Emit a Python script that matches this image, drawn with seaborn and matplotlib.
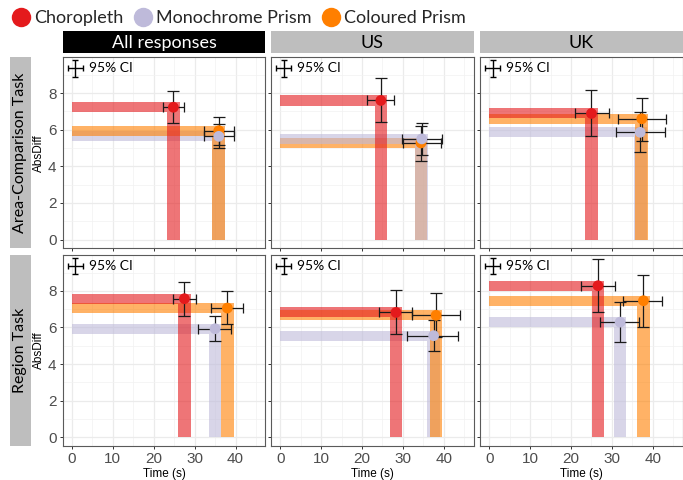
import numpy as np
import pandas as pd
import matplotlib
matplotlib.use("Agg")
import matplotlib.pyplot as plt
import seaborn as sns
from matplotlib.lines import Line2D

tasks = ["Area-Comparison Task", "Region Task"]
regions = ["All responses", "US", "UK"]
designs = ["Choropleth", "Monochrome Prism", "Coloured Prism"]
palette = {"Choropleth": "#E41A1C", "Monochrome Prism": "#BEBADA", "Coloured Prism": "#FF7F00"}

# panel order: Area-All, Area-US, Area-UK, Region-All, Region-US, Region-UK
chor_time = [24.8, 24.6, 25.0, 27.5, 28.3, 26.6]
chor_time_lo = [22.2, 21.2, 20.9, 24.6, 24.1, 22.4]
chor_time_hi = [27.4, 27.9, 29.3, 30.3, 32.3, 30.8]
chor_abs = [7.23, 7.60, 6.89, 7.57, 6.82, 8.28]
chor_abs_lo = [6.37, 6.41, 5.68, 6.64, 5.64, 6.82]
chor_abs_hi = [8.11, 8.82, 8.16, 8.51, 8.04, 9.73]

mono_time = [35.9, 34.6, 36.9, 35.0, 37.5, 32.0]
mono_time_lo = [32.2, 29.7, 31.1, 30.9, 31.1, 27.1]
mono_time_hi = [39.6, 39.5, 43.0, 38.9, 43.5, 36.7]
mono_abs = [5.64, 5.50, 5.86, 5.93, 5.55, 6.29]
mono_abs_lo = [4.99, 4.62, 4.77, 5.26, 4.69, 5.20]
mono_abs_hi = [6.29, 6.36, 6.95, 6.64, 6.41, 7.39]

col_time = [35.9, 34.4, 37.3, 38.0, 38.1, 37.7]
col_time_lo = [32.2, 29.9, 31.4, 34.1, 32.2, 32.6]
col_time_hi = [39.6, 39.2, 43.3, 41.9, 43.9, 42.2]
col_abs = [5.95, 5.28, 6.60, 7.06, 6.66, 7.46]
col_abs_lo = [5.17, 4.30, 5.41, 6.17, 5.46, 6.04]
col_abs_hi = [6.70, 6.20, 7.75, 7.99, 7.86, 8.89]

x_ticks = [0, 10, 20, 30, 40]
y_ticks = [0, 2, 4, 6, 8]

rows = []
series = {
    "Choropleth": (chor_time, chor_time_lo, chor_time_hi, chor_abs, chor_abs_lo, chor_abs_hi),
    "Monochrome Prism": (mono_time, mono_time_lo, mono_time_hi, mono_abs, mono_abs_lo, mono_abs_hi),
    "Coloured Prism": (col_time, col_time_lo, col_time_hi, col_abs, col_abs_lo, col_abs_hi),
}
for d, (t, tl, th, a, al, ah) in series.items():
    for i in range(6):
        rows.append(dict(task=tasks[i // 3], region=regions[i % 3], design=d,
                         time=t[i], time_lo=tl[i], time_hi=th[i],
                         absdiff=a[i], abs_lo=al[i], abs_hi=ah[i]))
df = pd.DataFrame(rows)

sns.set_theme(style="whitegrid")
plt.rcParams["font.family"] = ["Liberation Sans", "DejaVu Sans"]
label_font = ["Lato", "DejaVu Sans"]

W, H = 683, 480
fig = plt.figure(figsize=(W / 100, H / 100), dpi=100)

col_left = [62.7, 271.0, 480.0]
panel_w = 202.5
row_top = [57.3, 255.0]
panel_h = 191.0

BAR_H = 0.55   # thickness of horizontal band (AbsDiff units)
BAR_W = 3.1    # thickness of vertical band (time units)
point_order = ["Choropleth", "Coloured Prism", "Monochrome Prism"]

def rect(l, t, w, h):
    return [l / W, 1 - (t + h) / H, w / W, h / H]

for r, task in enumerate(tasks):
    for c, region in enumerate(regions):
        ax = fig.add_axes(rect(col_left[c], row_top[r], panel_w, panel_h))
        sub = df[(df.task == task) & (df.region == region)]
        ax.set_xlim(-2.25, 47.25)
        ax.set_ylim(-0.48, 9.96)
        ax.set_xticks(x_ticks)
        ax.set_yticks(y_ticks)
        ax.set_xticks([5, 15, 25, 35, 45], minor=True)
        ax.set_yticks([1, 3, 5, 7, 9], minor=True)
        ax.grid(which="major", color="#EBEBEB", lw=0.9)
        ax.grid(which="minor", color="#F2F2F2", lw=0.5)
        ax.set_facecolor("white")
        for s in ax.spines.values():
            s.set_color("#5A5A5A")
            s.set_linewidth(0.8)
        ax.tick_params(which="major", length=2.5, width=0.7, color="#333333",
                       labelsize=11, labelcolor="#4D4D4D", pad=2,
                       bottom=True, left=True)
        ax.tick_params(which="minor", length=0)
        ax.set_axisbelow(True)

        # bands: higher AbsDiff drawn on top
        for _, row in sub.sort_values("absdiff").iterrows():
            col = palette[row.design]
            ax.barh(row.absdiff, row.time + BAR_W / 2, height=BAR_H, left=0,
                    color=col, alpha=0.6, lw=0, zorder=2)
            ax.bar(row.time, row.absdiff - BAR_H / 2, width=BAR_W, bottom=0,
                   color=col, alpha=0.6, lw=0, zorder=2)
        for d in point_order:
            row = sub[sub.design == d].iloc[0]
            ax.errorbar(row.time, row.absdiff,
                        yerr=[[row.absdiff - row.abs_lo], [row.abs_hi - row.absdiff]],
                        fmt="none", ecolor="#1A1A1A", elinewidth=0.9, capsize=4.6,
                        capthick=0.9, zorder=3)
            ax.errorbar(row.time, row.absdiff,
                        xerr=[[row.time - row.time_lo], [row.time_hi - row.time]],
                        fmt="none", ecolor="#1A1A1A", elinewidth=0.9, capsize=3.6,
                        capthick=0.9, zorder=3)
        sub_o = sub.set_index("design").loc[point_order].reset_index()
        sns.scatterplot(data=sub_o, x="time", y="absdiff", hue="design",
                        palette=palette, s=60, linewidth=0, legend=False,
                        ax=ax, zorder=4)

        # "95% CI" key
        ax.errorbar([0.063], [0.942], xerr=[0.037], yerr=[0.044], fmt="none",
                    ecolor="black", elinewidth=1.0, capsize=2.5, capthick=1.0,
                    transform=ax.transAxes, zorder=5)
        ax.text(0.13, 0.942, "95% CI", transform=ax.transAxes, va="center",
                ha="left", fontsize=10, family=label_font, color="black", zorder=5)

        ax.set_xlabel("")
        ax.set_ylabel("")
        if c != 0:
            ax.set_yticklabels([])
        else:
            ax.set_ylabel("AbsDiff", fontsize=8.5, color="black", labelpad=2)
        if r != 1:
            ax.set_xticklabels([])
        else:
            ax.set_xlabel("Time (s)", fontsize=8.5, color="black", labelpad=1)

        # column strips
        if r == 0:
            sax = fig.add_axes(rect(col_left[c], 31.0, panel_w, 21.8))
            sax.set_xticks([]); sax.set_yticks([])
            fc = "black" if c == 0 else "#BEBEBE"
            tc = "white" if c == 0 else "black"
            sax.set_facecolor(fc)
            for s in sax.spines.values():
                s.set_visible(False)
            sax.text(0.5, 0.46, region, ha="center", va="center", color=tc,
                     fontsize=13, family=label_font, transform=sax.transAxes)
        # row strips
        if c == 0:
            sax = fig.add_axes(rect(10.0, row_top[r], 20.5, panel_h))
            sax.set_xticks([]); sax.set_yticks([])
            sax.set_facecolor("#BEBEBE")
            for s in sax.spines.values():
                s.set_visible(False)
            sax.text(0.5, 0.5, task, ha="center", va="center", rotation=90,
                     color="black", fontsize=11.5, family=label_font,
                     transform=sax.transAxes)

handles = [Line2D([], [], marker="o", ls="", markersize=14, markeredgewidth=0,
                  color=palette[d]) for d in designs]
fig.legend(handles, designs, loc="upper left", bbox_to_anchor=(-0.013, 1.012),
           ncol=3, frameon=False, handletextpad=0.0, columnspacing=0.3,
           handlelength=1.5, prop={"family": label_font, "size": 13.0})

fig.savefig("out.png", dpi=100)
